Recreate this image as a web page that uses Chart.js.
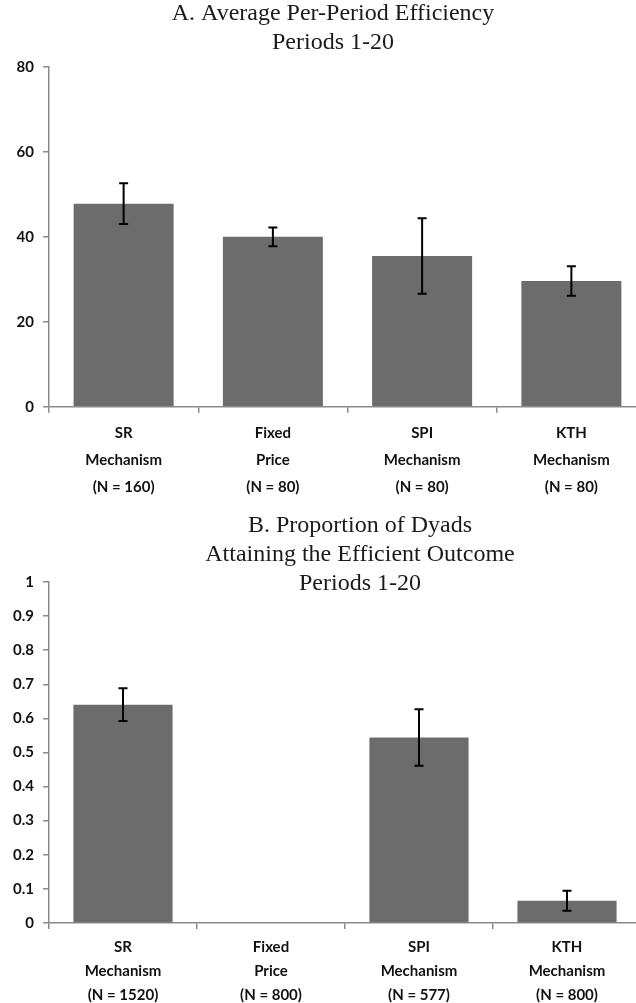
<!DOCTYPE html>
<html>
<head>
<meta charset="utf-8">
<script src="https://cdn.jsdelivr.net/npm/chart.js@4.4.1/dist/chart.umd.min.js"></script>
<style>
  html, body { margin: 0; padding: 0; background: #ffffff; overflow: hidden; width: 636px; height: 1003px; }
  .panel { position: absolute; left: 0; }
  #panelA { top: 0; }
  #panelB { top: 500px; }
</style>
</head>
<body>
<div class="panel" id="panelA"><canvas id="chartA" width="660" height="508"></canvas></div>
<div class="panel" id="panelB"><canvas id="chartB" width="660" height="514"></canvas></div>
<script>
// Treatments (x-axis labels, one line per array entry)
const labelsA = [
  ["SR", "Mechanism", "(N = 160)"],
  ["Fixed", "Price", "(N = 80)"],
  ["SPI", "Mechanism", "(N = 80)"],
  ["KTH", "Mechanism", "(N = 80)"]
];
const labelsB = [
  ["SR", "Mechanism", "(N = 1520)"],
  ["Fixed", "Price", "(N = 800)"],
  ["SPI", "Mechanism", "(N = 577)"],
  ["KTH", "Mechanism", "(N = 800)"]
];

// Panel A: average per-period efficiency and its error margin
const efficiency = [47.8, 40.0, 35.5, 29.6];
const efficiencyErr = [4.8, 2.2, 8.9, 3.5];

// Panel B: proportion of dyads reaching the efficient outcome
const efficientShare = [0.64, 0, 0.544, 0.065];
const efficientShareErr = [0.048, 0, 0.083, 0.029];

// Panel headings
const titleA = ["A. Average Per-Period Efficiency", "Periods 1-20"];
const titleB = ["B. Proportion of Dyads", "Attaining the Efficient Outcome", "Periods 1-20"];

const BAR_GREY = "#6c6c6c";
const AXIS_GREY = "#8a8a8a";

Chart.defaults.font.family = "Lato, 'Open Sans', sans-serif";
Chart.defaults.color = "#111111";

// Whiskers drawn over each bar from the error arrays
const errorBars = {
  id: "errorBars",
  afterDatasetsDraw(chart, args, opts) {
    const ctx = chart.ctx;
    const yScale = chart.scales.y;
    const meta = chart.getDatasetMeta(0);
    const vals = chart.data.datasets[0].data;
    ctx.save();
    ctx.strokeStyle = "#000000";
    ctx.lineWidth = 2;
    meta.data.forEach((bar, i) => {
      const e = opts.errors[i];
      if (!e) return;
      const top = yScale.getPixelForValue(vals[i] + e);
      const bot = yScale.getPixelForValue(vals[i] - e);
      const x = bar.x;
      const cap = 4.5;
      ctx.beginPath();
      ctx.moveTo(x, top); ctx.lineTo(x, bot);
      ctx.moveTo(x - cap, top); ctx.lineTo(x + cap, top);
      ctx.moveTo(x - cap, bot); ctx.lineTo(x + cap, bot);
      ctx.stroke();
    });
    ctx.restore();
  }
};

// Serif heading lines, centred on a given x
const headline = {
  id: "headline",
  afterDraw(chart, args, opts) {
    const ctx = chart.ctx;
    ctx.save();
    ctx.font = opts.font;
    ctx.fillStyle = "#1a1a1a";
    ctx.textAlign = "center";
    ctx.textBaseline = "middle";
    opts.lines.forEach((line, i) => {
      ctx.fillText(line, opts.centerX, opts.firstY + i * opts.lineHeight);
    });
    ctx.restore();
  }
};

// Tick text without trailing zeros: 1, 0.9, ..., 0
const plainNumber = (value) => String(Number(Number(value).toFixed(2)));

function makeChart(id, labels, values, errors, yMax, yStep, title, cfg) {
  return new Chart(document.getElementById(id), {
    type: "bar",
    data: {
      labels: labels,
      datasets: [{
        data: values,
        backgroundColor: BAR_GREY,
        borderWidth: 0,
        barPercentage: 1,
        categoryPercentage: 0.67
      }]
    },
    options: {
      responsive: false,
      animation: false,
      layout: { padding: cfg.layout },
      plugins: {
        legend: { display: false },
        tooltip: { enabled: false },
        title: { display: false },
        errorBars: { errors: errors },
        headline: {
          lines: title,
          font: "24px 'Liberation Serif', 'Times New Roman', serif",
          centerX: cfg.titleX,
          firstY: cfg.titleY,
          lineHeight: 29
        }
      },
      scales: {
        x: {
          grid: {
            display: true,
            offset: true,
            drawOnChartArea: false,
            drawTicks: true,
            tickLength: 6,
            color: AXIS_GREY,
            lineWidth: 1.5
          },
          border: { display: true, color: AXIS_GREY, width: 1.5 },
          ticks: {
            padding: cfg.labelPad,
            maxRotation: 0,
            autoSkip: false,
            color: "#111111",
            font: { size: 15, weight: "bold", lineHeight: cfg.labelLine }
          }
        },
        y: {
          min: 0,
          max: yMax,
          afterFit(scale) { scale.width = 49; },
          grid: {
            display: true,
            drawOnChartArea: false,
            drawTicks: true,
            tickLength: 6,
            color: AXIS_GREY,
            lineWidth: 1.5
          },
          border: { display: true, color: AXIS_GREY, width: 1.5 },
          ticks: {
            stepSize: yStep,
            padding: 9,
            color: "#111111",
            font: { size: 15, weight: "bold" },
            callback: plainNumber
          }
        }
      }
    },
    plugins: [errorBars, headline]
  });
}

makeChart("chartA", labelsA, efficiency, efficiencyErr, 80, 20, titleA, {
  layout: { top: 67, bottom: 0.3, left: 0, right: 14 },
  titleX: 333, titleY: 14,
  labelPad: 7, labelLine: "27px"
});

makeChart("chartB", labelsB, efficientShare, efficientShareErr, 1, 0.1, titleB, {
  layout: { top: 82, bottom: 1.5, left: 0, right: 19 },
  titleX: 360, titleY: 26,
  labelPad: 5.8, labelLine: "24px"
});
</script>
</body>
</html>
